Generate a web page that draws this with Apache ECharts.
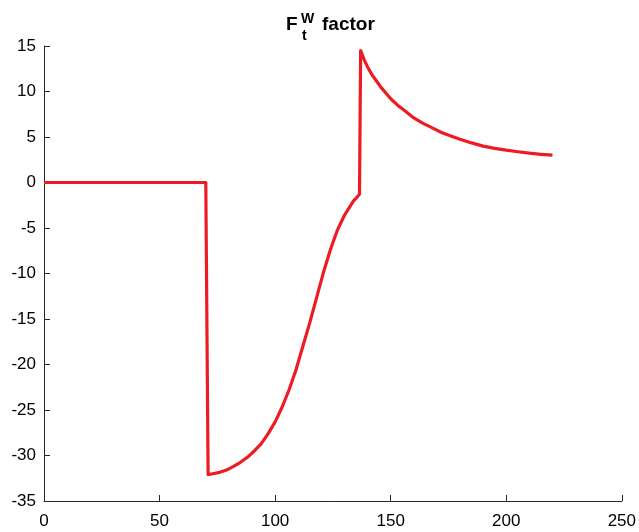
<!DOCTYPE html>
<html>
<head>
<meta charset="utf-8">
<title>F factor</title>
<script src="https://cdn.jsdelivr.net/npm/echarts@6/dist/echarts.min.js"></script>
<style>
  html, body { margin: 0; padding: 0; background: #fff; }
  #chart { width: 639px; height: 532px; }
</style>
</head>
<body>
<div id="chart"></div>
<script>
// Time axis (x) and factor values (y) of the curve
const xs = [0, 70, 71, 73, 76, 79, 82, 85, 88, 91, 94, 97, 100, 103, 106, 109, 112, 115, 118, 121, 124, 127, 130, 132, 134, 135.5, 136.5,
            137, 138.5, 140, 142, 144, 146, 148, 150, 153, 156, 160, 164, 168, 172, 176, 180, 185, 190, 195, 200, 205, 210, 215, 220];
const ys = [0, 0, -32.1, -32.0, -31.85, -31.6, -31.2, -30.75, -30.2, -29.5, -28.7, -27.6, -26.3, -24.7, -22.8, -20.6, -18.0, -15.4, -12.6, -9.8, -7.3, -5.2, -3.6, -2.8, -2.0, -1.6, -1.3,
            14.5, 13.5, 12.7, 11.8, 11.1, 10.4, 9.8, 9.2, 8.5, 7.9, 7.1, 6.5, 6.0, 5.5, 5.1, 4.75, 4.35, 4.0, 3.75, 3.55, 3.38, 3.22, 3.1, 3.0];

// Axis ranges: [min, max, interval]
const xRange = [0, 250, 50];
const yRange = [-35, 15, 5];

const points = xs.map((x, i) => [x, ys[i]]);

const axisColor = '#262626';
const labelFont = { color: '#000', fontFamily: 'Liberation Sans, Arial, sans-serif', fontSize: 17 };
const titleFont = 'bold 19px "Liberation Sans", Arial, sans-serif';
const scriptFont = 'bold 14px "Liberation Sans", Arial, sans-serif';

const chart = echarts.init(document.getElementById('chart'), null, { renderer: 'canvas' });
chart.setOption({
  animation: false,
  backgroundColor: '#fff',
  grid: { left: 44, right: 15, top: 46, bottom: 31, containLabel: false },
  xAxis: {
    type: 'value',
    min: xRange[0], max: xRange[1], interval: xRange[2],
    axisLine: { show: true, onZero: false, lineStyle: { color: axisColor, width: 1 } },
    axisTick: { show: true, inside: true, length: 6, lineStyle: { color: axisColor } },
    axisLabel: Object.assign({ margin: 12 }, labelFont),
    splitLine: { show: false }
  },
  yAxis: {
    type: 'value',
    min: yRange[0], max: yRange[1], interval: yRange[2],
    axisLine: { show: true, onZero: false, lineStyle: { color: axisColor, width: 1 } },
    axisTick: { show: true, inside: true, length: 6, lineStyle: { color: axisColor } },
    axisLabel: Object.assign({ margin: 8 }, labelFont),
    splitLine: { show: false }
  },
  series: [{
    type: 'line',
    data: points,
    showSymbol: false,
    smooth: false,
    lineStyle: { color: '#ED1C24', width: 3.2, join: 'round', cap: 'butt' },
    itemStyle: { color: '#ED1C24' }
  }],
  graphic: [
    { type: 'text', left: 286, top: 15, style: { text: 'F', font: titleFont, fill: '#000' } },
    { type: 'text', left: 301, top: 12, style: { text: 'W', font: scriptFont, fill: '#000' } },
    { type: 'text', left: 302, top: 29, style: { text: 't', font: scriptFont, fill: '#000' } },
    { type: 'text', left: 322, top: 15, style: { text: 'factor', font: titleFont, fill: '#000' } }
  ]
});
</script>
</body>
</html>
